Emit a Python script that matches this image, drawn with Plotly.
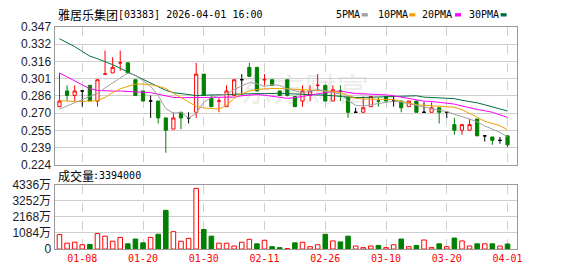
import plotly.graph_objects as go
import numpy as np

# ---------------- data ----------------
dates = ["01-05", "01-06", "01-07", "01-08", "01-09", "01-12", "01-13", "01-14", "01-15", "01-16",
         "01-19", "01-20", "01-21", "01-22", "01-23", "01-26", "01-27", "01-28", "01-29", "01-30",
         "02-02", "02-03", "02-04", "02-05", "02-06", "02-09", "02-10", "02-11", "02-12", "02-13",
         "02-16", "02-20", "02-23", "02-24", "02-25", "02-26", "02-27", "03-02", "03-03", "03-04",
         "03-05", "03-06", "03-09", "03-10", "03-11", "03-12", "03-13", "03-16", "03-17", "03-18",
         "03-19", "03-20", "03-23", "03-24", "03-25", "03-26", "03-27", "03-30", "03-31", "04-01"]

opens = [0.276, 0.290, 0.286, 0.290, 0.295, 0.281, 0.305, 0.306, 0.315, 0.315,
         0.300, 0.290, 0.281, 0.281, 0.266, 0.256, 0.271, 0.266, 0.271, 0.305,
         0.284, 0.281, 0.276, 0.286, 0.300, 0.311, 0.311, 0.300, 0.300, 0.290,
         0.300, 0.285, 0.281, 0.286, 0.295, 0.295, 0.281, 0.290, 0.284, 0.271,
         0.271, 0.276, 0.281, 0.285, 0.281, 0.281, 0.276, 0.281, 0.271, 0.271,
         0.275, 0.271, 0.260, 0.255, 0.255, 0.265, 0.250, 0.249, 0.246, 0.250]
highs = [0.306, 0.295, 0.295, 0.290, 0.295, 0.300, 0.326, 0.320, 0.326, 0.315,
         0.300, 0.290, 0.286, 0.281, 0.266, 0.271, 0.271, 0.271, 0.315, 0.305,
         0.286, 0.284, 0.295, 0.300, 0.305, 0.315, 0.311, 0.305, 0.300, 0.290,
         0.300, 0.285, 0.295, 0.295, 0.305, 0.295, 0.295, 0.295, 0.284, 0.275,
         0.285, 0.285, 0.284, 0.285, 0.285, 0.281, 0.281, 0.281, 0.280, 0.280,
         0.275, 0.271, 0.266, 0.260, 0.265, 0.265, 0.250, 0.249, 0.249, 0.250]
lows = [0.276, 0.281, 0.281, 0.276, 0.281, 0.276, 0.305, 0.306, 0.308, 0.306,
        0.286, 0.281, 0.266, 0.261, 0.235, 0.256, 0.256, 0.261, 0.266, 0.286,
        0.276, 0.271, 0.276, 0.286, 0.286, 0.303, 0.290, 0.295, 0.295, 0.286,
        0.285, 0.276, 0.276, 0.281, 0.290, 0.281, 0.281, 0.281, 0.266, 0.271,
        0.271, 0.276, 0.276, 0.281, 0.276, 0.271, 0.276, 0.271, 0.271, 0.271,
        0.261, 0.266, 0.251, 0.251, 0.255, 0.250, 0.245, 0.242, 0.243, 0.240]
closes = [0.281, 0.286, 0.290, 0.290, 0.281, 0.300, 0.305, 0.311, 0.315, 0.306,
          0.286, 0.281, 0.281, 0.266, 0.255, 0.266, 0.266, 0.266, 0.305, 0.286,
          0.276, 0.281, 0.290, 0.300, 0.300, 0.303, 0.290, 0.300, 0.295, 0.286,
          0.286, 0.276, 0.290, 0.290, 0.295, 0.281, 0.291, 0.290, 0.271, 0.271,
          0.275, 0.285, 0.281, 0.281, 0.281, 0.275, 0.281, 0.271, 0.271, 0.275,
          0.271, 0.271, 0.255, 0.260, 0.260, 0.250, 0.250, 0.246, 0.246, 0.242]

ma5 = [0.2738, 0.2766, 0.2791, 0.2823, 0.2851, 0.2879, 0.2927, 0.2970, 0.3012, 0.3060,
       0.3040, 0.2992, 0.2941, 0.2857, 0.2743, 0.2701, 0.2710, 0.2659, 0.2701, 0.2800,
       0.2842, 0.2862, 0.2871, 0.2913, 0.2947, 0.2975, 0.2964, 0.2941, 0.2956, 0.2950,
       0.2919, 0.2899, 0.2885, 0.2899, 0.2913, 0.2899, 0.2885, 0.2871, 0.2814, 0.2772,
       0.2766, 0.2777, 0.2786, 0.2800, 0.2809, 0.2800, 0.2786, 0.2772, 0.2758, 0.2743,
       0.2729, 0.2715, 0.2692, 0.2672, 0.2650, 0.2625, 0.2588, 0.2560, 0.2531, 0.2489]
ma10 = [0.2814, 0.2809, 0.2806, 0.2806, 0.2809, 0.2814, 0.2842, 0.2885, 0.2919, 0.2941,
        0.2961, 0.2961, 0.2956, 0.2941, 0.2922, 0.2879, 0.2842, 0.2800, 0.2763, 0.2749,
        0.2744, 0.2738, 0.2772, 0.2834, 0.2876, 0.2899, 0.2913, 0.2919, 0.2922, 0.2922,
        0.2919, 0.2916, 0.2913, 0.2908, 0.2902, 0.2899, 0.2896, 0.2885, 0.2857, 0.2834,
        0.2828, 0.2826, 0.2826, 0.2826, 0.2823, 0.2806, 0.2789, 0.2777, 0.2772, 0.2769,
        0.2766, 0.2763, 0.2755, 0.2732, 0.2701, 0.2667, 0.2630, 0.2613, 0.2591, 0.2554]
ma20 = [0.3060, 0.3026, 0.2992, 0.2956, 0.2919, 0.2905, 0.2899, 0.2899, 0.2899, 0.2896,
        0.2896, 0.2893, 0.2885, 0.2871, 0.2857, 0.2842, 0.2840, 0.2840, 0.2840, 0.2840,
        0.2840, 0.2840, 0.2840, 0.2845, 0.2857, 0.2865, 0.2868, 0.2862, 0.2851, 0.2840,
        0.2834, 0.2840, 0.2851, 0.2862, 0.2874, 0.2885, 0.2896, 0.2899, 0.2885, 0.2876,
        0.2874, 0.2871, 0.2871, 0.2865, 0.2857, 0.2845, 0.2831, 0.2820, 0.2809, 0.2806,
        0.2800, 0.2794, 0.2783, 0.2766, 0.2749, 0.2735, 0.2724, 0.2710, 0.2687, 0.2664]
ma30 = [0.3365, 0.3331, 0.3295, 0.3252, 0.3210, 0.3187, 0.3162, 0.3134, 0.3102, 0.3069,
        0.3035, 0.3004, 0.2970, 0.2936, 0.2905, 0.2885, 0.2876, 0.2865, 0.2859, 0.2862,
        0.2862, 0.2865, 0.2868, 0.2871, 0.2874, 0.2874, 0.2876, 0.2876, 0.2879, 0.2879,
        0.2876, 0.2874, 0.2871, 0.2868, 0.2865, 0.2862, 0.2857, 0.2851, 0.2845, 0.2842,
        0.2842, 0.2845, 0.2845, 0.2848, 0.2851, 0.2854, 0.2859, 0.2857, 0.2845, 0.2842,
        0.2842, 0.2840, 0.2831, 0.2817, 0.2806, 0.2794, 0.2777, 0.2758, 0.2738, 0.2721]

# volume in 万 shares
volumes = [974, 396, 460, 289, 310, 1040, 867, 526, 783, 353,
           674, 417, 783, 995, 2600, 1168, 526, 719, 4077, 1316,
           867, 396, 396, 205, 460, 653, 353, 590, 160, 96,
           32, 417, 460, 160, 289, 995, 546, 481, 867, 205,
           96, 205, 244, 96, 289, 674, 160, 244, 610, 96,
           353, 160, 738, 546, 205, 353, 353, 353, 205, 339.4]

x_tick_labels = ["01-08", "01-20", "01-30", "02-11", "02-26", "03-10", "03-20", "04-01"]
price_tick_labels = ["0.224", "0.239", "0.255", "0.270", "0.286", "0.301", "0.316", "0.332", "0.347"]
vol_tick_labels = ["0", "1084万", "2168万", "3252万", "4336万"]
price_min, price_max = 0.224, 0.347
vol_max = 4336

title_name = "雅居乐集团"
title_rest = "[03383] 2026-04-01 16:00"
legend_names = ["5PMA", "10PMA", "20PMA", "30PMA"]
vol_label = "成交量"
last_volume = "3394000"

# ---------------- styles ----------------
W, H = 578, 276
RED, GREEN, BLACK = "#ff0000", "#008000", "#000000"
MA_COLORS = ["#a0a0a0", "#f0a000", "#ff00ff", "#006f3a"]


def px(x):
    return x / W


def py(y):
    return 1 - y / H


n = len(dates)
fig = go.Figure()


def candle_class(i):
    o, c = opens[i], closes[i]
    if c > o:
        return "up"
    if c < o:
        return "down"
    pc = closes[i - 1] if i > 0 else o
    if c > pc:
        return "flat_up"
    if c < pc:
        return "flat_down"
    return "flat"


styles = {"up": (RED, "#ffffff"), "down": (GREEN, GREEN), "flat_up": (RED, RED),
          "flat_down": (GREEN, GREEN), "flat": (BLACK, BLACK)}
for k, (lc, fc) in styles.items():
    idx = [i for i in range(n) if candle_class(i) == k]
    if not idx:
        continue
    fig.add_trace(go.Candlestick(
        x=[dates[i] for i in idx], open=[opens[i] for i in idx], high=[highs[i] for i in idx],
        low=[lows[i] for i in idx], close=[closes[i] for i in idx],
        increasing=dict(line=dict(color=lc, width=1), fillcolor=fc),
        decreasing=dict(line=dict(color=lc, width=1), fillcolor=fc),
        whiskerwidth=0, showlegend=False, hoverinfo="skip", xaxis="x", yaxis="y"))

for ma, col in zip([ma30, ma20, ma10, ma5], MA_COLORS[::-1]):
    fig.add_trace(go.Scatter(x=dates, y=ma, mode="lines", line=dict(color=col, width=1),
                             showlegend=False, hoverinfo="skip", xaxis="x", yaxis="y"))

vol_fill, vol_line = [], []
for i in range(n):
    up = i == 0 or closes[i] >= closes[i - 1]
    vol_fill.append("#ffffff" if up else GREEN)
    vol_line.append(RED if up else GREEN)
fig.add_trace(go.Bar(x=dates, y=volumes, width=0.6,
                     marker=dict(color=vol_fill, line=dict(color=vol_line, width=1)),
                     showlegend=False, hoverinfo="skip", xaxis="x2", yaxis="y2"))

xdom = [px(55), px(522)]
xr = [-0.653, 60.31]
grid = "#cfcfcf"
border = "#999999"
common_x = dict(domain=xdom, type="category", categoryorder="array", categoryarray=dates,
                range=xr, tickmode="array", tickvals=x_tick_labels, showgrid=True,
                gridcolor=grid, griddash="dash", gridwidth=1, showline=True, linecolor=border,
                linewidth=1, mirror=True, zeroline=False, ticks="", fixedrange=True)
tickfont = dict(family="Liberation Sans, Noto Sans CJK SC", size=12, color="#1a1a2a")

fig.update_layout(
    width=W, height=H, autosize=False,
    margin=dict(l=0, r=0, t=0, b=0),
    paper_bgcolor="#ffffff", plot_bgcolor="rgba(0,0,0,0)",
    showlegend=False, boxgap=0.4,
    xaxis=dict(common_x, anchor="y", showticklabels=False, rangeslider=dict(visible=False)),
    yaxis=dict(domain=[py(166.5), py(21)], range=[price_min, price_max],
               tickmode="array", tickvals=list(np.linspace(price_min, price_max, len(price_tick_labels))),
               ticktext=price_tick_labels, showgrid=True, gridcolor=grid, gridwidth=1,
               showline=True, linecolor=border, mirror=True, zeroline=False, ticks="",
               tickfont=tickfont, anchor="x"),
    xaxis2=dict(common_x, anchor="y2", showticklabels=True, ticktext=x_tick_labels,
                tickfont=dict(family="DejaVu Sans Mono", size=10, color=RED)),
    yaxis2=dict(domain=[py(255), py(187)], range=[0, vol_max], tickmode="array",
                tickvals=list(np.linspace(0, vol_max, len(vol_tick_labels))), ticktext=vol_tick_labels,
                showgrid=True, gridcolor=grid, gridwidth=1, showline=True, linecolor=border,
                mirror=True, zeroline=False, ticks="", tickfont=tickfont, anchor="x2"),
)

ann = []
ann.append(dict(text=title_name, x=px(56), y=py(8), xanchor="left", yanchor="middle",
                font=dict(family="Noto Sans CJK SC", size=12, color="#000")))
ann.append(dict(text=title_rest, x=px(117), y=py(8), xanchor="left", yanchor="middle",
                font=dict(family="DejaVu Sans Mono", size=10, color="#000")))
leg_x = [337, 379, 424, 471]
sq_x = [365, 413, 459, 505]
for name, lx, sx, col in zip(legend_names, leg_x, sq_x, MA_COLORS):
    ann.append(dict(text=name, x=px(lx), y=py(8), xanchor="left", yanchor="middle",
                    font=dict(family="DejaVu Sans Mono", size=10, color="#000")))
    fig.add_shape(type="rect", xref="paper", yref="paper", x0=px(sx), x1=px(sx + 6),
                  y0=py(10), y1=py(6.5), line=dict(width=0), fillcolor=col)
ann.append(dict(text=vol_label, x=px(56), y=py(177), xanchor="left", yanchor="middle",
                font=dict(family="Noto Sans CJK SC", size=12, color="#000")))
ann.append(dict(text=":" + last_volume, x=px(92), y=py(177), xanchor="left", yanchor="middle",
                font=dict(family="DejaVu Sans Mono", size=10, color="#000")))
for a in ann:
    a.update(xref="paper", yref="paper", showarrow=False)
fig.update_layout(annotations=ann)

# faint watermark
fig.add_shape(type="rect", xref="paper", yref="paper", x0=px(235), x1=px(380), y0=py(108), y1=py(72),
              line=dict(width=0), fillcolor="rgba(0,0,0,0)", layer="below",
              label=dict(text="东方财富", font=dict(family="Noto Sans CJK SC", size=32, color="#ececec"),
                         textposition="middle center"))

fig.write_html("out.html")
